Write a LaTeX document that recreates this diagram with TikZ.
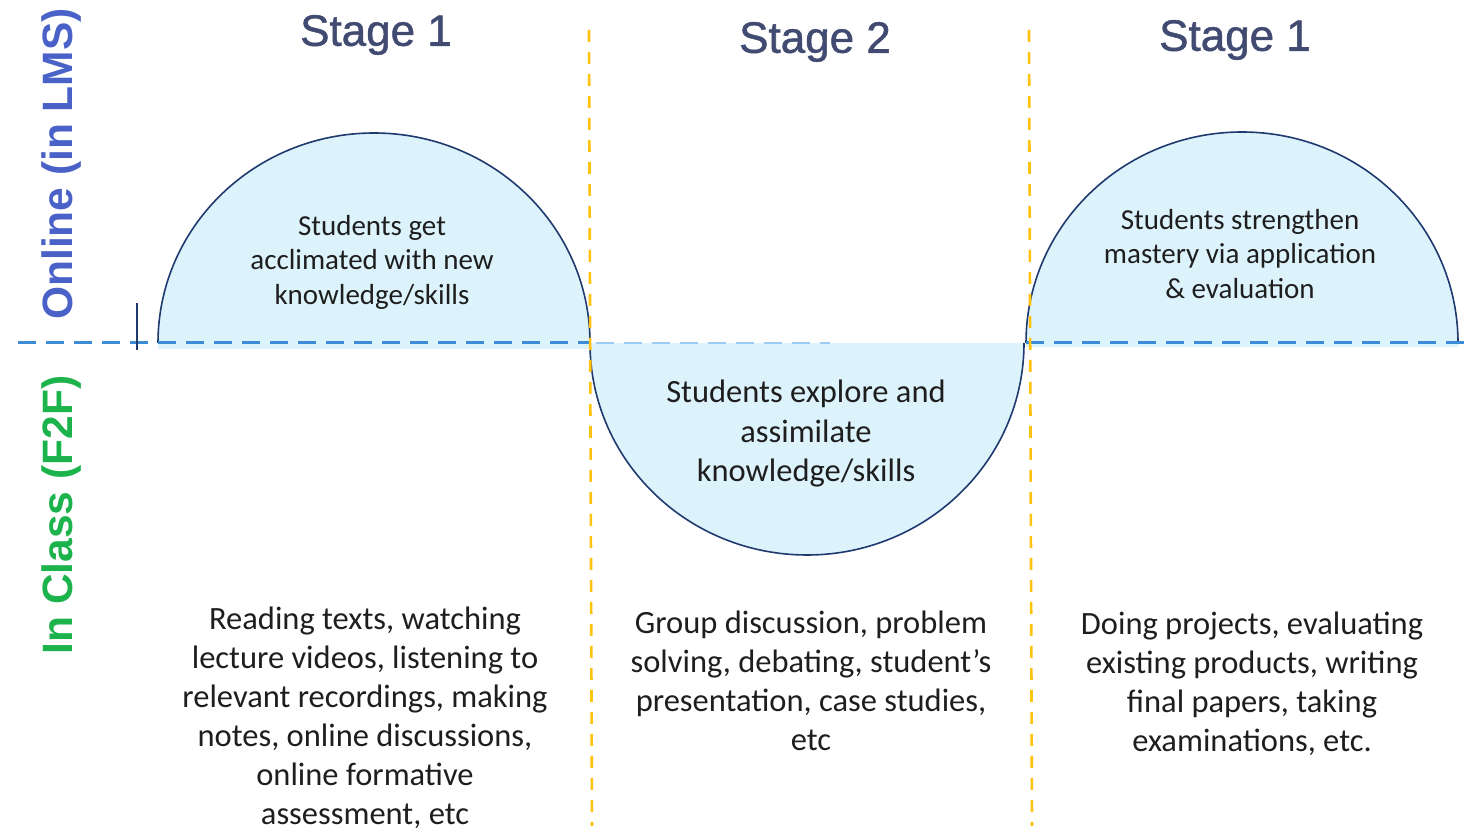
\documentclass[tikz,border=0pt]{standalone}
\usepackage{fontspec}
\setmainfont{Carlito}
\newfontfamily\hdfont[FakeBold=1.2]{Liberation Sans}
\newfontfamily\sidefont{Liberation Sans}
\definecolor{fillblue}{HTML}{DDF3FC}
\definecolor{navy}{HTML}{1F3A6E}
\definecolor{dashblue}{HTML}{3C8DD6}
\definecolor{lightdash}{HTML}{9CCBEF}
\definecolor{gold}{HTML}{FFC20E}
\definecolor{stagecol}{HTML}{414A70}
\definecolor{onlineblue}{HTML}{4A62C8}
\definecolor{classgreen}{HTML}{1DB34C}
\definecolor{bodytext}{HTML}{1E1E1E}
\tikzset{
  stagelabel/.style={font=\hdfont\fontsize{44}{50}\selectfont, text=stagecol},
  sidelabel/.style={font=\sidefont\bfseries\fontsize{42.5}{48}\selectfont, rotate=90},
  innertext/.style={font=\fontsize{29}{34.5}\selectfont, text=bodytext, align=center},
  midtext/.style={font=\fontsize{32.5}{39.5}\selectfont, text=bodytext, align=center},
  bottomtext/.style={font=\fontsize{32.5}{39}\selectfont, text=bodytext, align=center},
  half/.style={fill=fillblue, draw=navy, line width=1.6pt},
  stagesep/.style={draw=gold, line width=2.6pt, dash pattern=on 12pt off 10pt},
  axisline/.style={draw=dashblue, line width=3pt, dash pattern=on 18pt off 10pt}
}
\begin{document}
\begin{tikzpicture}[x=1pt,y=1pt]
\useasboundingbox (0,0) rectangle (1470,830);
% fill strips just below the baseline
\fill[fillblue] (158,481) rectangle (590,487);
\fill[fillblue] (1026,483) rectangle (1458,487);
% semicircles
\path[half] (158,487) arc[start angle=180, end angle=0, x radius=216, y radius=210];
\path[half] (590,487) arc[start angle=180, end angle=360, x radius=217, y radius=212];
\path[half] (1026,487) arc[start angle=180, end angle=0, x radius=216, y radius=211];
% horizontal axis
\coordinate (axL) at (18,487);
\coordinate (axM) at (590,487);
\coordinate (axR1) at (1026,487);
\coordinate (axR) at (1470,487);
\coordinate (mlA) at (596,487);
\coordinate (mlB) at (830,487);
\path[axisline] (axL) -- (axM);
\path[axisline] (axR1) -- (axR);
\draw[lightdash, line width=2pt, dash pattern=on 18pt off 10pt] (mlA) -- (mlB);
% small tick
\coordinate (tkA) at (137,527);
\coordinate (tkB) at (137,480);
\draw[navy, line width=1.2pt] (tkA) -- (tkB);
% stage separators
\coordinate (s1t) at (589,800);
\coordinate (s1b) at (592,4);
\coordinate (s2t) at (1029,800);
\coordinate (s2b) at (1032,4);
\path[stagesep] (s1t) -- (s1b);
\path[stagesep] (s2t) -- (s2b);
% stage headers
\node[stagelabel] (st1) at (376,795) {Stage 1};
\node[stagelabel] (st2) at (815,788) {Stage 2};
\node[stagelabel] (st3) at (1235,790) {Stage 1};
% side labels
\node[sidelabel, text=onlineblue] (online) at (62,666) {Online (in LMS)};
\node[sidelabel, text=classgreen] (inclass) at (62,315) {In Class (F2F)};
% semicircle texts
\node[innertext] (t1) at (372,568) {Students get\\acclimated with new\\knowledge/skills};
\node[midtext] (t2) at (806,396) {Students explore and\\assimilate\\knowledge/skills};
\node[innertext] (t3) at (1240,576) {Students strengthen\\mastery via application\\\& evaluation};
% bottom texts
\node[bottomtext] (b1) at (365,112) {Reading texts, watching\\lecture videos, listening to\\relevant recordings, making\\notes, online discussions,\\online formative\\assessment, etc};
\node[bottomtext] (b2) at (811,149) {Group discussion, problem\\solving, debating, student’s\\presentation, case studies,\\etc};
\node[bottomtext] (b3) at (1252,146) {Doing projects, evaluating\\existing products, writing\\final papers, taking\\examinations, etc.};
\end{tikzpicture}
\end{document}
